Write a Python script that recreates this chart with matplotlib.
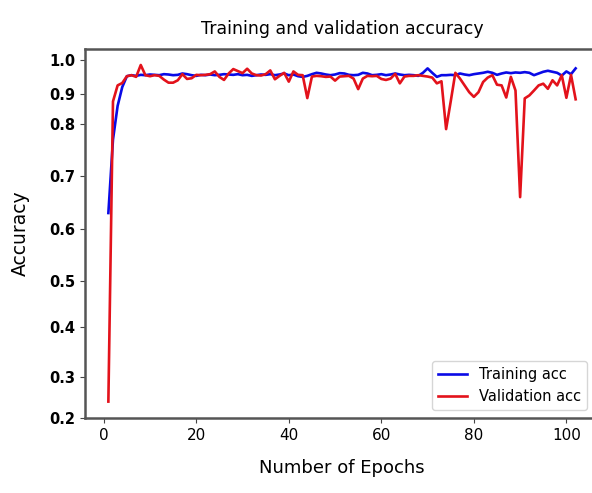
import numpy as np
import matplotlib.pyplot as plt

# accuracy per epoch
train_acc = [0.63, 0.77, 0.86, 0.92, 0.952, 0.955, 0.953, 0.956, 0.955, 0.957,
             0.956, 0.955, 0.958, 0.957, 0.955, 0.956, 0.960, 0.958, 0.955, 0.953,
             0.956, 0.955, 0.957, 0.955, 0.956, 0.958, 0.957, 0.956, 0.958, 0.955,
             0.956, 0.953, 0.955, 0.957, 0.956, 0.958, 0.955, 0.957, 0.960, 0.955,
             0.957, 0.952, 0.950, 0.953, 0.958, 0.962, 0.960, 0.957, 0.955, 0.957,
             0.961, 0.960, 0.956, 0.955, 0.956, 0.962, 0.960, 0.955, 0.956, 0.958,
             0.955, 0.957, 0.960, 0.957, 0.955, 0.956, 0.955, 0.953, 0.962, 0.975,
             0.962, 0.950, 0.955, 0.955, 0.956, 0.955, 0.960, 0.957, 0.955, 0.958,
             0.960, 0.962, 0.965, 0.962, 0.956, 0.960, 0.963, 0.961, 0.963, 0.962,
             0.964, 0.962, 0.955, 0.960, 0.965, 0.968, 0.965, 0.962, 0.954, 0.966,
             0.958, 0.975]
val_acc = [0.24, 0.875, 0.925, 0.932, 0.952, 0.955, 0.950, 0.985, 0.955, 0.952,
           0.955, 0.953, 0.942, 0.933, 0.933, 0.940, 0.958, 0.944, 0.946, 0.956,
           0.955, 0.956, 0.958, 0.966, 0.950, 0.941, 0.960, 0.973, 0.967, 0.961,
           0.974, 0.960, 0.955, 0.954, 0.958, 0.969, 0.943, 0.953, 0.962, 0.936,
           0.966, 0.956, 0.955, 0.886, 0.951, 0.953, 0.952, 0.950, 0.951, 0.939,
           0.951, 0.952, 0.953, 0.945, 0.914, 0.945, 0.953, 0.952, 0.953, 0.944,
           0.941, 0.945, 0.959, 0.931, 0.951, 0.953, 0.953, 0.955, 0.953, 0.951,
           0.948, 0.931, 0.937, 0.790, 0.875, 0.962, 0.945, 0.925, 0.905, 0.890,
           0.905, 0.935, 0.948, 0.955, 0.927, 0.925, 0.888, 0.950, 0.910, 0.660,
           0.885, 0.895, 0.910, 0.925, 0.930, 0.915, 0.940, 0.925, 0.955, 0.887,
           0.956, 0.882]
epochs = range(1, len(train_acc) + 1)

# the y axis of the reference is unevenly spaced; these are its tick positions
ytick_vals = [0.0, 0.2, 0.3, 0.4, 0.5, 0.6, 0.7, 0.8, 0.9, 1.0, 1.2]
ytick_pix = [500, 418, 377, 327, 281, 229, 176, 124, 94, 60, -8]

def fwd(v):
    return -np.interp(v, ytick_vals, ytick_pix)

def inv(p):
    return np.interp(p, -np.array(ytick_pix, dtype=float), ytick_vals)

fig = plt.figure(figsize=(5.92, 4.93), dpi=100)
ax = fig.add_axes([85/592, 1-418/493, 514/592, 369/493])

ax.plot(epochs, train_acc, color='#0a0ae6', lw=1.9, label='Training acc')
ax.plot(epochs, val_acc, color='#e3121b', lw=1.9, label='Validation acc')

ax.set_yscale('function', functions=(fwd, inv))
ax.set_ylim(0.2, 1.032)
ax.set_xlim(-4.05, 107.05)
ax.set_yticks([0.2, 0.3, 0.4, 0.5, 0.6, 0.7, 0.8, 0.9, 1.0])
ax.set_yticklabels(['%.1f' % t for t in ax.get_yticks()], fontweight='bold', fontsize=10.5)
ax.set_xticks([0, 20, 40, 60, 80, 100])
ax.tick_params(axis='x', labelsize=11)
ax.tick_params(colors='#444444', labelcolor='black')

for s in ax.spines.values():
    s.set_color('#555555')
    s.set_linewidth(1.8)

ax.set_title('Training and validation accuracy', fontsize=12.5, pad=11)
ax.set_xlabel('Number of Epochs', fontsize=13, labelpad=12)
ax.set_ylabel('Accuracy', fontsize=13.5, labelpad=14)
ax.legend(loc='lower right', bbox_to_anchor=(587/592, 1-410/493),
          bbox_transform=fig.transFigure, borderaxespad=0, fontsize=10.5)

plt.savefig('out.png', dpi=100)
